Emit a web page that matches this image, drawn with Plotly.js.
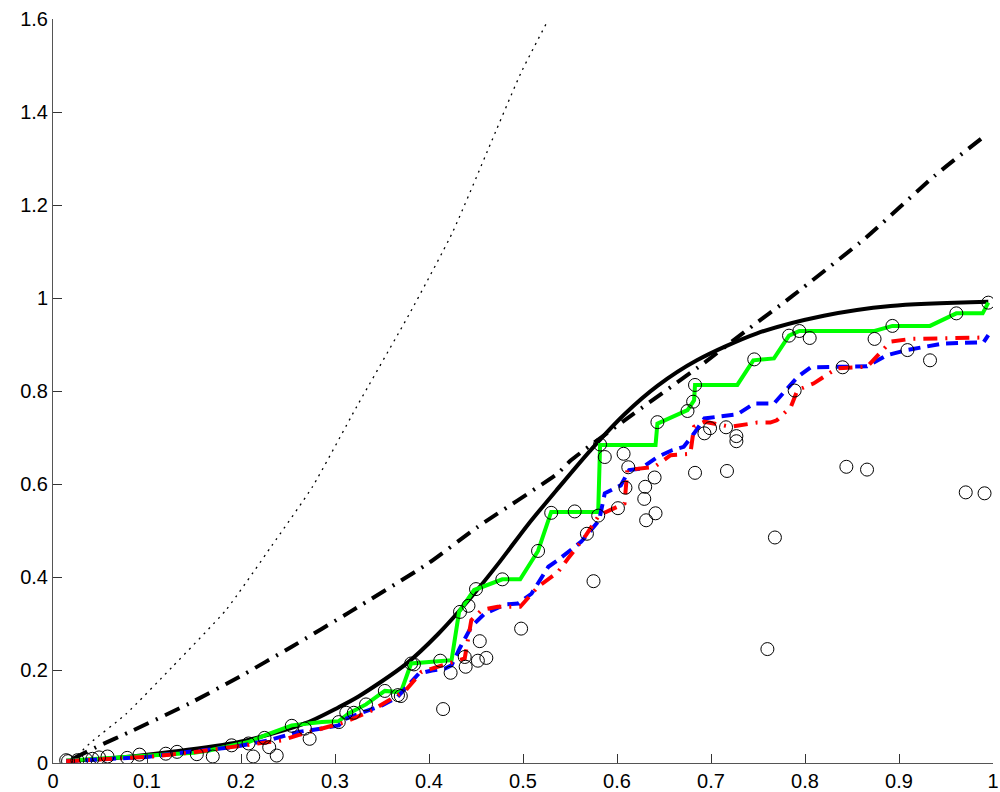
<!DOCTYPE html>
<html>
<head>
<meta charset="utf-8">
<script src="https://cdn.plot.ly/plotly-3.0.1.min.js"></script>
<style>html,body{margin:0;padding:0;background:#fff;}#chart{width:1000px;height:792px;}</style>
</head>
<body>
<div id="chart"></div>
<script>
// Circles (observations)
const obsX = [0.014,0.016,0.026,0.035,0.042,0.049,0.058,0.079,0.092,0.120,0.132,0.153,0.170,0.190,0.208,0.213,0.225,0.230,0.238,0.254,0.268,0.273,0.304,0.312,0.320,0.333,0.353,0.367,0.370,0.381,0.384,0.412,0.415,0.423,0.433,0.438,0.439,0.442,0.450,0.452,0.454,0.461,0.478,0.498,0.516,0.530,0.555,0.568,0.575,0.580,0.582,0.587,0.601,0.607,0.609,0.612,0.629,0.630,0.631,0.640,0.641,0.643,0.675,0.681,0.683,0.683,0.693,0.699,0.716,0.717,0.727,0.727,0.746,0.760,0.768,0.783,0.789,0.794,0.805,0.840,0.844,0.866,0.874,0.893,0.909,0.933,0.961,0.971,0.991,0.995];
const obsY = [0.006,0.004,0.006,0.008,0.009,0.012,0.014,0.011,0.018,0.020,0.024,0.019,0.014,0.038,0.042,0.014,0.054,0.034,0.016,0.080,0.074,0.052,0.088,0.108,0.108,0.126,0.155,0.146,0.144,0.214,0.212,0.220,0.116,0.194,0.325,0.228,0.207,0.338,0.374,0.220,0.262,0.226,0.395,0.289,0.456,0.538,0.541,0.493,0.391,0.532,0.685,0.658,0.548,0.665,0.592,0.636,0.568,0.594,0.522,0.614,0.537,0.733,0.757,0.777,0.813,0.624,0.709,0.720,0.722,0.628,0.703,0.692,0.868,0.245,0.485,0.919,0.801,0.929,0.914,0.851,0.637,0.631,0.912,0.940,0.888,0.866,0.967,0.582,0.580,0.990];

// Green estimate
const greenX = [0.014,0.05,0.10,0.15,0.166,0.191,0.208,0.226,0.254,0.286,0.304,0.315,0.333,0.353,0.370,0.381,0.424,0.432,0.448,0.478,0.497,0.516,0.530,0.580,0.582,0.641,0.643,0.675,0.682,0.683,0.728,0.745,0.767,0.783,0.794,0.874,0.893,0.933,0.961,0.989,0.995];
const greenY = [0.005,0.010,0.015,0.022,0.027,0.038,0.045,0.060,0.081,0.088,0.090,0.107,0.126,0.155,0.152,0.214,0.221,0.325,0.372,0.395,0.395,0.456,0.540,0.540,0.684,0.684,0.730,0.759,0.780,0.813,0.813,0.866,0.870,0.919,0.929,0.929,0.940,0.940,0.967,0.967,0.990];

// Blue estimate
const blueX = [0.014,0.05,0.10,0.145,0.191,0.230,0.261,0.286,0.304,0.311,0.350,0.366,0.376,0.389,0.403,0.417,0.424,0.433,0.445,0.459,0.481,0.495,0.509,0.527,0.537,0.562,0.581,0.587,0.604,0.613,0.625,0.643,0.659,0.671,0.682,0.693,0.728,0.746,0.767,0.785,0.792,0.806,0.866,0.887,0.908,0.947,0.990,0.995];
const blueY = [0.004,0.008,0.013,0.024,0.034,0.049,0.067,0.074,0.081,0.095,0.124,0.141,0.164,0.192,0.199,0.203,0.210,0.248,0.293,0.321,0.341,0.343,0.364,0.422,0.436,0.476,0.522,0.580,0.597,0.630,0.633,0.658,0.673,0.680,0.709,0.741,0.750,0.773,0.773,0.813,0.830,0.851,0.853,0.877,0.888,0.902,0.905,0.920];

// Red estimate
const redX = [0.014,0.05,0.10,0.145,0.191,0.230,0.244,0.261,0.293,0.311,0.339,0.367,0.375,0.392,0.420,0.438,0.445,0.456,0.473,0.497,0.516,0.537,0.548,0.567,0.581,0.608,0.611,0.640,0.657,0.678,0.682,0.693,0.721,0.749,0.763,0.770,0.785,0.792,0.809,0.834,0.866,0.891,0.912,0.990];
const redY = [0.004,0.008,0.013,0.022,0.034,0.045,0.049,0.060,0.077,0.088,0.113,0.146,0.156,0.196,0.214,0.225,0.307,0.329,0.336,0.336,0.379,0.410,0.440,0.490,0.533,0.558,0.630,0.637,0.662,0.665,0.723,0.734,0.723,0.732,0.732,0.737,0.766,0.802,0.816,0.849,0.852,0.906,0.912,0.915];

// Black solid curve
const solidX = [0.014,0.056,0.127,0.198,0.268,0.304,0.325,0.375,0.410,0.445,0.475,0.505,0.537,0.572,0.608,0.643,0.685,0.749,0.820,0.891,0.995];
const solidY = [0.005,0.009,0.024,0.045,0.085,0.120,0.143,0.212,0.278,0.357,0.432,0.512,0.590,0.673,0.750,0.811,0.866,0.924,0.962,0.983,0.992];

// Black dash-dot curve
const dashdotX = [0.021,0.046,0.085,0.145,0.198,0.254,0.316,0.399,0.452,0.537,0.551,0.608,0.689,0.735,0.787,0.865,0.938,0.994];
const dashdotY = [0.009,0.034,0.070,0.128,0.185,0.250,0.325,0.429,0.508,0.623,0.651,0.737,0.855,0.926,1.005,1.130,1.263,1.353];

// Black dotted curve
const dotX = [0.021,0.039,0.078,0.127,0.184,0.233,0.276,0.323,0.380,0.425,0.472,0.498,0.525];
const dotY = [0.006,0.042,0.106,0.207,0.329,0.468,0.594,0.766,0.969,1.141,1.363,1.485,1.591];

const xTicks = [0,0.1,0.2,0.3,0.4,0.5,0.6,0.7,0.8,0.9,1];
const yTicks = [0,0.2,0.4,0.6,0.8,1,1.2,1.4,1.6];

const traces = [
  {x: dotX, y: dotY, mode:'lines', line:{color:'#000', width:1.3, dash:'2px,5px', shape:'spline', smoothing:0.5}, hoverinfo:'skip'},
  {x: dashdotX, y: dashdotY, mode:'lines', line:{color:'#000', width:4, dash:'16px,8px,2px,8px', shape:'spline', smoothing:0.5}, hoverinfo:'skip'},
  {x: solidX, y: solidY, mode:'lines', line:{color:'#000', width:4, shape:'spline', smoothing:0.8}, hoverinfo:'skip'},
  {x: greenX, y: greenY, mode:'lines', line:{color:'#00ff00', width:4}, hoverinfo:'skip'},
  {x: blueX, y: blueY, mode:'lines', line:{color:'#0000ff', width:4, dash:'12px,7px'}, hoverinfo:'skip'},
  {x: redX, y: redY, mode:'lines', line:{color:'#ff0000', width:4, dash:'14px,8px,2px,8px'}, hoverinfo:'skip'},
  {x: obsX, y: obsY, mode:'markers', marker:{symbol:'circle-open', size:13, color:'#000', line:{width:1, color:'#000'}}, hoverinfo:'skip'}
];

const axisCommon = {
  showgrid:false, zeroline:false, showline:true, linecolor:'#555', linewidth:1,
  ticks:'inside', ticklen:9, tickwidth:1, tickcolor:'#333',
  tickfont:{family:'Liberation Sans, Arial, sans-serif', size:20, color:'#000'},
  ticklabeloverflow:'allow',
  mirror:false, fixedrange:true
};

const layout = {
  width:1000, height:792,
  margin:{l:53, r:7, t:19, b:29, pad:0},
  paper_bgcolor:'#fff', plot_bgcolor:'#fff',
  showlegend:false,
  xaxis: Object.assign({}, axisCommon, {range:[0,1], tickvals:xTicks, ticktext:xTicks.map(String)}),
  yaxis: Object.assign({}, axisCommon, {range:[0,1.6], tickvals:yTicks, ticktext:yTicks.map(String)})
};

Plotly.newPlot('chart', traces, layout, {staticPlot:true, displayModeBar:false});
</script>
</body>
</html>
